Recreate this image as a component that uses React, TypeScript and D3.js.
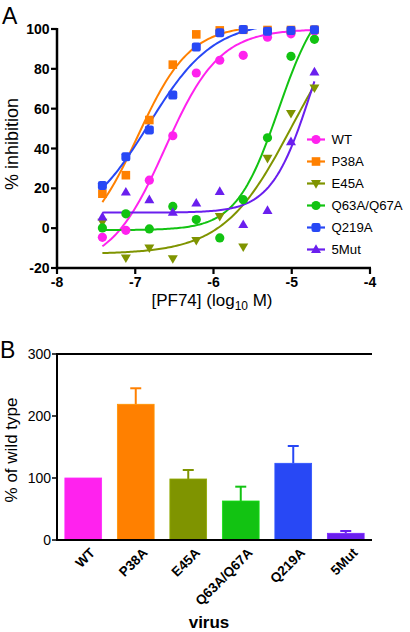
import React from "react";
import * as d3 from "d3";

// ---------- Panel A data ----------
const seriesNames = ["WT", "P38A", "E45A", "Q63A/Q67A", "Q219A", "5Mut"];
const seriesColors = ["#FF22EE", "#FF8000", "#7F9400", "#12C312", "#2848F5", "#6A1FEE"];
const seriesShapes = ["circle", "square", "triDown", "circle", "roundSquare", "triUp"];
const logConc = [-7.42, -7.12, -6.82, -6.52, -6.22, -5.92, -5.62, -5.31, -5.01, -4.71];
const wtValues = [-4.6, -1.1, 24.1, 46.4, 77.9, 84.3, 86.8, 95.9, 97.6, 99];
const p38aValues = [17.3, 26.6, 54.3, 82.1, 97.3, 99.3, 99.6, 99.5, 99.5, 99.6];
const e45aValues = [3, -14.9, -9.9, -15.3, -6.1, 5.9, -9.4, 35.1, 57.6, 70.4];
const q63aValues = [0.1, 7.2, -0.4, 10.9, 4.3, -4.9, 14.3, 45.4, 86.3, 94.8];
const q219aValues = [21.4, 35.9, 49.3, 66.8, 90.9, 98.1, 99.8, 98.9, 99.3, 99.6];
const mut5Values = [5.6, 18.1, 14.3, 7.9, 12.6, 18.4, 1.75, 8.9, 43.4, 78.4];
const seriesValues = [wtValues, p38aValues, e45aValues, q63aValues, q219aValues, mut5Values];
// fitted 4-parameter logistic parameters (bottom, top, logEC50, hill)
const fitBottom = [-20, -10, -13, -1, 0, 7.8];
const fitTop = [100, 102, 115, 120, 104, 130];
const fitLogEC50 = [-6.62, -6.97, -5.0, -5.17, -6.83, -4.75];
const fitHill = [1.25, 1.3, 1.0, 1.6, 1.05, 1.7];
const xTicksA = [-8, -7, -6, -5, -4];
const yTicksA = [-20, 0, 20, 40, 60, 80, 100];

// ---------- Panel B data ----------
const virusNames = ["WT", "P38A", "E45A", "Q63A/Q67A", "Q219A", "5Mut"];
const virusValues = [100, 218.9, 98.4, 62.9, 123.7, 10.8];
const virusErrors = [0, 25.8, 14.5, 23.1, 27.9, 3.7];
const yTicksB = [0, 100, 200, 300];

const FONT = "'Liberation Sans', Arial, Helvetica, sans-serif";

function Marker({ shape, x, y, color, s = 1 }: { shape: string; x: number; y: number; color: string; s?: number }) {
  if (shape === "circle") return <circle cx={x} cy={y} r={4.6 * s} fill={color} />;
  if (shape === "square")
    return <rect x={x - 4.3 * s} y={y - 4.3 * s} width={8.6 * s} height={8.6 * s} fill={color} />;
  if (shape === "roundSquare")
    return <rect x={x - 4.5 * s} y={y - 4.5 * s} width={9 * s} height={9 * s} rx={2.2 * s} fill={color} />;
  const h = 8.6 * s, w = 10 * s;
  if (shape === "triUp")
    return <path d={`M${x},${y - h * 0.6}L${x + w / 2},${y + h * 0.4}L${x - w / 2},${y + h * 0.4}Z`} fill={color} />;
  return <path d={`M${x},${y + h * 0.6}L${x + w / 2},${y - h * 0.4}L${x - w / 2},${y - h * 0.4}Z`} fill={color} />;
}

export default function App() {
  // Panel A scales
  const xA = d3.scaleLinear().domain([-8, -4]).range([57, 370]);
  const yA = d3.scaleLinear().domain([-20, 100]).range([268, 29]);
  const lineA = d3
    .line<[number, number]>()
    .x((d) => xA(d[0]))
    .y((d) => yA(d[1]))
    .curve(d3.curveLinear);
  const curveXs = d3.range(0, 121).map((i) => logConc[0] + ((logConc[9] - logConc[0]) * i) / 120);

  // Panel B scales
  const xB = d3.scaleBand<string>().domain(virusNames).range([57, 372]).paddingInner(0.3).paddingOuter(0.15);
  const yB = d3.scaleLinear().domain([0, 300]).range([540, 354]);

  return (
    <svg
      width={410}
      height={632}
      style={{ position: "absolute", left: 0, top: 0, background: "#fff" }}
      fontFamily={FONT}
    >
      <defs>
        <clipPath id="clipA">
          <rect x={40} y={yA(100)} width={340} height={yA(-20) - yA(100) + 10} />
        </clipPath>
      </defs>
      {/* ---------------- Panel A ---------------- */}
      <text x={2} y={24} fontSize={23}>A</text>
      {/* axes */}
      <line x1={57} x2={57} y1={yA(100) - 1} y2={yA(-20) + 1.2} stroke="#000" strokeWidth={2.5} />
      <line x1={56} x2={xA(-4) + 1} y1={yA(-20)} y2={yA(-20)} stroke="#000" strokeWidth={2.5} />
      {yTicksA.map((t) => (
        <g key={t}>
          <line x1={51} x2={57} y1={yA(t)} y2={yA(t)} stroke="#000" strokeWidth={2.2} />
          <text x={49.5} y={yA(t)} dy="0.36em" textAnchor="end" fontSize={14} fontWeight="bold">
            {t}
          </text>
        </g>
      ))}
      {xTicksA.map((t) => (
        <g key={t}>
          <line x1={xA(t)} x2={xA(t)} y1={yA(-20)} y2={yA(-20) + 6} stroke="#000" strokeWidth={2.2} />
          <text x={xA(t)} y={287} textAnchor="middle" fontSize={14} fontWeight="bold">
            {t}
          </text>
        </g>
      ))}
      <text transform={`translate(18,144) rotate(-90)`} textAnchor="middle" fontSize={18}>
        % inhibition
      </text>
      <text x={212} y={306} textAnchor="middle" fontSize={17}>
        [PF74] (log
        <tspan fontSize={12} dy={4}>10</tspan>
        <tspan dy={-4}> M)</tspan>
      </text>
      {/* curves */}
      <g clipPath="url(#clipA)">
        {seriesNames.map((n, i) => {
          const pts: [number, number][] = curveXs.map((x) => [
            x,
            fitBottom[i] + (fitTop[i] - fitBottom[i]) / (1 + Math.pow(10, (fitLogEC50[i] - x) * fitHill[i])),
          ]);
          return <path key={n} d={lineA(pts) || ""} fill="none" stroke={seriesColors[i]} strokeWidth={2} />;
        })}
      </g>
      {/* points */}
      {seriesNames.map((n, i) => (
        <g key={n}>
          {seriesValues[i].map((v, j) => (
            <Marker key={j} shape={seriesShapes[i]} x={xA(logConc[j])} y={yA(v)} color={seriesColors[i]} />
          ))}
        </g>
      ))}
      {/* legend */}
      {seriesNames.map((n, i) => {
        const cy = 139.5 + i * 22;
        return (
          <g key={n}>
            <line x1={307} x2={325} y1={cy} y2={cy} stroke={seriesColors[i]} strokeWidth={2.2} />
            <Marker shape={seriesShapes[i]} x={316} y={cy} color={seriesColors[i]} />
            <text x={331.5} y={cy} dy="0.36em" fontSize={13.2}>
              {n}
            </text>
          </g>
        );
      })}

      {/* ---------------- Panel B ---------------- */}
      <text x={0} y={358} fontSize={23}>B</text>
      <line x1={57} x2={57} y1={yB(300) - 1} y2={yB(0) + 1} stroke="#000" strokeWidth={2} />
      <line x1={56} x2={372} y1={yB(0)} y2={yB(0)} stroke="#000" strokeWidth={2} />
      <line x1={56} x2={372} y1={yB(300)} y2={yB(300)} stroke="#000" strokeWidth={2} />
      {yTicksB.map((t) => (
        <g key={t}>
          <line x1={52} x2={57} y1={yB(t)} y2={yB(t)} stroke="#000" strokeWidth={1.5} />
          <text x={51} y={yB(t)} dy="0.36em" textAnchor="end" fontSize={14}>
            {t}
          </text>
        </g>
      ))}
      <text transform={`translate(16.5,450) rotate(-90)`} textAnchor="middle" fontSize={17}>
        % of wild type
      </text>
      {virusNames.map((n, i) => {
        const x0 = xB(n) || 0;
        const bw = xB.bandwidth();
        const cx = x0 + bw / 2;
        const top = yB(virusValues[i]);
        const errTop = yB(virusValues[i] + virusErrors[i]);
        return (
          <g key={n}>
            {virusErrors[i] > 0 && (
              <g stroke={seriesColors[i]} strokeWidth={2}>
                <line x1={cx} x2={cx} y1={top} y2={errTop} />
                <line x1={cx - 5.5} x2={cx + 5.5} y1={errTop} y2={errTop} />
              </g>
            )}
            <rect
              x={x0}
              y={top}
              width={bw}
              height={yB(0) - top}
              fill={seriesColors[i]}
              stroke={d3.color(seriesColors[i])?.brighter(0.4).toString()}
              strokeWidth={0.8}
            />
            <text
              transform={`translate(${cx + 6},${547}) rotate(-45)`}
              textAnchor="end"
              fontSize={13.5}
              fontWeight="bold"
              dy="0.7em"
            >
              {n}
            </text>
          </g>
        );
      })}
      <line x1={56} x2={372} y1={yB(0)} y2={yB(0)} stroke="#000" strokeWidth={2} />
      <text x={209} y={628} textAnchor="middle" fontSize={17} fontWeight="bold">
        virus
      </text>
    </svg>
  );
}
